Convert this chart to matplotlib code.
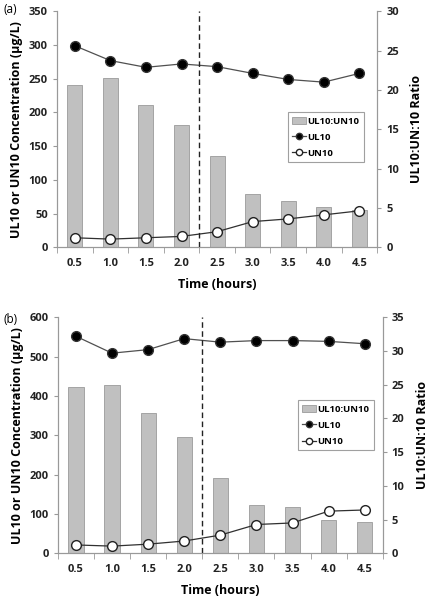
import numpy as np
import matplotlib.pyplot as plt

plt.rcParams['font.family'] = ['Open Sans', 'DejaVu Sans']

times = ['0.5', '1.0', '1.5', '2.0', '2.5', '3.0', '3.5', '4.0', '4.5']

# panel (a)
ul10_a = [299, 277, 267, 272, 268, 258, 249, 245, 258]
un10_a = [14, 12, 14, 16, 23, 38, 42, 48, 54]
ratio_a = [20.6, 21.5, 18.1, 15.6, 11.6, 6.8, 5.9, 5.1, 4.7]

# panel (b)
ul10_b = [552, 509, 518, 546, 537, 541, 541, 539, 533]
un10_b = [21, 18, 23, 31, 46, 73, 77, 107, 110]
ratio_b = [24.6, 25.0, 20.8, 17.2, 11.2, 7.2, 6.8, 4.9, 4.7]

fig = plt.figure(figsize=(4.32, 6), dpi=100)


def panel(rect, ul10, un10, ratio, ymax, ystep, rmax, rstep, tag, tag_y, leg_anchor):
    ax = fig.add_axes(rect)
    ax2 = ax.twinx()
    # bars behind the lines
    ax.set_zorder(2)
    ax.patch.set_visible(False)
    ax2.set_zorder(1)
    x = np.arange(len(times))
    bars = ax2.bar(x, ratio, width=0.42, color='#c0c0c0', edgecolor='#9a9a9a',
                   linewidth=0.6, label='UL10:UN10')
    l1, = ax.plot(x, ul10, '-o', color='#505050', lw=0.9, markersize=7,
                  markerfacecolor='black', markeredgecolor='#333333', label='UL10')
    l2, = ax.plot(x, un10, '-o', color='#303030', lw=0.9, markersize=7,
                  markerfacecolor='white', markeredgecolor='#222222', label='UN10')
    ax.axvline(3.5, color='#222222', ls='--', lw=1.0, dashes=(4, 2.5))

    ax.set_xlim(-0.5, 8.5)
    ax.set_ylim(0, ymax)
    ax.set_yticks(np.arange(0, ymax + 1, ystep))
    ax2.set_ylim(0, rmax)
    ax2.set_yticks(np.arange(0, rmax + 1, rstep))
    ax.set_xticks(x)
    ax.set_xticklabels(times)
    ax.set_xticks(np.arange(-0.5, 9, 1), minor=True)
    ax.tick_params(axis='x', which='major', length=0, pad=8)
    ax.tick_params(axis='x', which='minor', length=4, color='#999999')

    for a in (ax, ax2):
        a.spines['top'].set_visible(False)
        for s in ('left', 'right', 'bottom'):
            a.spines[s].set_color('#999999')
            a.spines[s].set_linewidth(0.8)
        a.tick_params(axis='y', length=3, color='#999999', labelsize=8)
    ax.tick_params(axis='x', labelsize=8)
    for lab in ax.get_xticklabels() + ax.get_yticklabels() + ax2.get_yticklabels():
        lab.set_fontweight('bold')
        lab.set_color('#222222')

    ax.set_xlabel('Time (hours)', fontsize=9, fontweight='bold', labelpad=6)
    ax.set_ylabel('UL10 or UN10 Concentration (\u00b5g/L)', fontsize=9, fontweight='bold', labelpad=4)
    ax2.set_ylabel('UL10:UN:10 Ratio', fontsize=9, fontweight='bold', labelpad=8)

    leg = ax.legend([bars, l1, l2], ['UL10:UN10', 'UL10', 'UN10'], loc='upper left',
                    bbox_to_anchor=leg_anchor, frameon=True, fancybox=False,
                    edgecolor='#888888', handlelength=1.5, handletextpad=0.15,
                    borderpad=0.45, labelspacing=0.75, markerscale=0.65,
                    borderaxespad=0, prop={'weight': 'bold', 'size': 6.8})
    leg.get_frame().set_linewidth(0.8)
    fig.text(0.008, tag_y, tag, fontsize=8.5, va='top')


panel([0.132, 0.588, 0.741, 0.393], ul10_a, un10_a, ratio_a, 350, 50, 30, 5,
      '(a)', 0.995, (0.72, 0.572))
panel([0.134, 0.078, 0.752, 0.393], ul10_b, un10_b, ratio_b, 600, 100, 35, 5,
      '(b)', 0.478, (0.738, 0.648))

fig.savefig('out.png', dpi=100)
